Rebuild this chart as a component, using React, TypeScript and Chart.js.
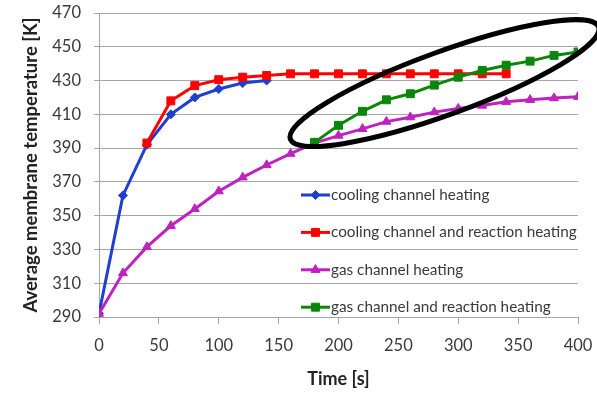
import React, { useEffect, useRef } from 'react';
import { Chart, registerables } from 'chart.js';

Chart.register(...registerables);

// ---- data ----
const times = [0, 20, 40, 60, 80, 100, 120, 140, 160, 180, 200, 220, 240, 260, 280, 300, 320, 340, 360, 380, 400];
const coolingChannelHeating = [292, 362, 392, 410, 420, 425, 428.5, 430, null, null, null, null, null, null, null, null, null, null, null, null, null];
const coolingChannelReactionHeating = [null, null, 393, 418, 427, 430.5, 432, 433, 434, 434, 434, 434, 434, 434, 434, 434, 434, 434, null, null, null];
const gasChannelHeating = [292, 316, 331.5, 344, 354, 364.5, 372.7, 380, 386.7, 393, 397.4, 401.4, 405.7, 408.3, 411.3, 413.4, 415.2, 417.4, 418.6, 419.6, 420.4];
const gasChannelReactionHeating = [null, null, null, null, null, null, null, null, null, 393.4, 403.5, 411.8, 418.6, 422.2, 427.3, 432, 436, 439.1, 441.5, 444.9, 446.9];
const seriesLabels = [
  'cooling channel heating',
  'cooling channel and reaction heating',
  'gas channel heating',
  'gas channel and reaction heating',
];
const yTicks = [290, 310, 330, 350, 370, 390, 410, 430, 450, 470];
const xTicks = [0, 50, 100, 150, 200, 250, 300, 350, 400];
const xTitle = 'Time [s]';
const yTitle = 'Average membrane temperature [K]';
// highlighted region (ellipse annotation) centre in data units
const ellipseCenter = { x: 288.5, y: 428.5 };

const FONT = 'Lato, "Open Sans", sans-serif';
const TEXT = '#3A3A3A';
const TITLE = '#222222';
const GRID = '#A6A6A6';

const toPoints = (vals: (number | null)[]) =>
  times.map((t, i) => ({ x: t, y: vals[i] })).filter((p) => p.y !== null);

const ellipsePlugin = {
  id: 'ellipseNote',
  afterDatasetsDraw(chart: any) {
    const { ctx, scales } = chart;
    const cx = scales.x.getPixelForValue(ellipseCenter.x);
    const cy = scales.y.getPixelForValue(ellipseCenter.y);
    ctx.save();
    ctx.beginPath();
    ctx.ellipse(cx, cy, 164, 31.5, (-20 * Math.PI) / 180, 0, Math.PI * 2);
    ctx.strokeStyle = '#000000';
    ctx.lineWidth = 5;
    ctx.stroke();
    ctx.restore();
  },
};

function drawMarker(ctx: CanvasRenderingContext2D, style: string, r: number, x: number, y: number) {
  ctx.beginPath();
  if (style === 'rect') {
    const s = r * Math.SQRT1_2;
    ctx.rect(x - s, y - s, 2 * s, 2 * s);
  } else if (style === 'rectRot') {
    ctx.moveTo(x, y - r);
    ctx.lineTo(x + r, y);
    ctx.lineTo(x, y + r);
    ctx.lineTo(x - r, y);
    ctx.closePath();
  } else if (style === 'triangle') {
    const a = (2 * Math.PI) / 3;
    ctx.moveTo(x, y - r);
    ctx.lineTo(x + Math.sin(a) * r, y - Math.cos(a) * r);
    ctx.lineTo(x - Math.sin(a) * r, y - Math.cos(a) * r);
    ctx.closePath();
  }
  ctx.fill();
  ctx.stroke();
}

const legendPlugin = {
  id: 'innerLegend',
  afterDraw(chart: any) {
    const { ctx, chartArea } = chart;
    const x0 = chartArea.left + 202;
    const y0 = chartArea.top + 182;
    const step = 37.4;
    ctx.save();
    chart.data.datasets.forEach((ds: any, i: number) => {
      const y = y0 + i * step;
      ctx.beginPath();
      ctx.moveTo(x0, y);
      ctx.lineTo(x0 + 29, y);
      ctx.strokeStyle = ds.borderColor;
      ctx.lineWidth = ds.borderWidth;
      ctx.stroke();
      ctx.fillStyle = ds.pointBackgroundColor;
      ctx.strokeStyle = ds.borderColor;
      ctx.lineWidth = 1;
      drawMarker(ctx, ds.pointStyle, ds.pointRadius, x0 + 14.5, y);
      ctx.fillStyle = TEXT;
      ctx.font = '15.3px ' + FONT;
      ctx.textBaseline = 'middle';
      ctx.textAlign = 'left';
      ctx.fillText(ds.label, x0 + 30, y);
    });
    ctx.restore();
  },
};

export default function App() {
  const ref = useRef<HTMLCanvasElement>(null);
  useEffect(() => {
    document.body.style.margin = '0';
    const colors = ['#1F3FCF', '#FF0000', '#BF22BF', '#0A870A'];
    const styles = ['rectRot', 'rect', 'triangle', 'rect'];
    const radii = [4.5, 5.6, 5.2, 5.6];
    const series = [coolingChannelHeating, coolingChannelReactionHeating, gasChannelHeating, gasChannelReactionHeating];
    const chart = new Chart(ref.current!, {
      type: 'line',
      data: {
        datasets: series.map((s, i) => ({
          label: seriesLabels[i],
          data: toPoints(s),
          borderColor: colors[i],
          backgroundColor: colors[i],
          pointBackgroundColor: colors[i],
          pointBorderColor: colors[i],
          pointStyle: styles[i],
          pointRadius: radii[i],
          pointBorderWidth: 1,
          borderWidth: 3,
          tension: 0,
          order: 3 - i,
        })),
      },
      plugins: [ellipsePlugin, legendPlugin],
      options: {
        responsive: false,
        animation: false,
        devicePixelRatio: 1,
        layout: { padding: { left: 0, right: 19, top: 13, bottom: 0 } },
        plugins: { legend: { display: false }, tooltip: { enabled: false } },
        scales: {
          x: {
            type: 'linear',
            min: 0,
            max: 400,
            afterBuildTicks: (s: any) => {
              s.ticks = xTicks.map((v) => ({ value: v }));
            },
            afterFit: (s: any) => {
              s.height = 76;
              s.paddingLeft = 0;
              s.paddingRight = 0;
            },
            grid: { drawOnChartArea: false, drawTicks: true, tickLength: 7, color: GRID, lineWidth: 1 },
            border: { color: GRID, width: 1 },
            ticks: { color: TEXT, font: { family: FONT, size: 16.5 }, padding: 12, maxRotation: 0 },
            title: {
              display: true,
              text: xTitle,
              color: TITLE,
              font: { family: FONT, size: 18, weight: 'bold' },
              padding: { top: 0, bottom: 3 },
            },
          },
          y: {
            type: 'linear',
            min: 290,
            max: 470,
            afterBuildTicks: (s: any) => {
              s.ticks = yTicks.map((v) => ({ value: v }));
            },
            afterFit: (s: any) => {
              s.width = 99;
              s.paddingTop = 0;
              s.paddingBottom = 0;
            },
            grid: { color: GRID, lineWidth: 1, tickLength: 5 },
            border: { color: GRID, width: 1 },
            ticks: { color: TEXT, font: { family: FONT, size: 16.5 }, padding: 13 },
            title: {
              display: true,
              text: yTitle,
              color: TITLE,
              font: { family: FONT, size: 18.5, weight: 'bold' },
              padding: { top: 20, bottom: 0 },
            },
          },
        },
      },
    } as any);
    return () => chart.destroy();
  }, []);
  return (
    <div style={{ width: 597, height: 393 }}>
      <canvas ref={ref} width={597} height={393} />
    </div>
  );
}
